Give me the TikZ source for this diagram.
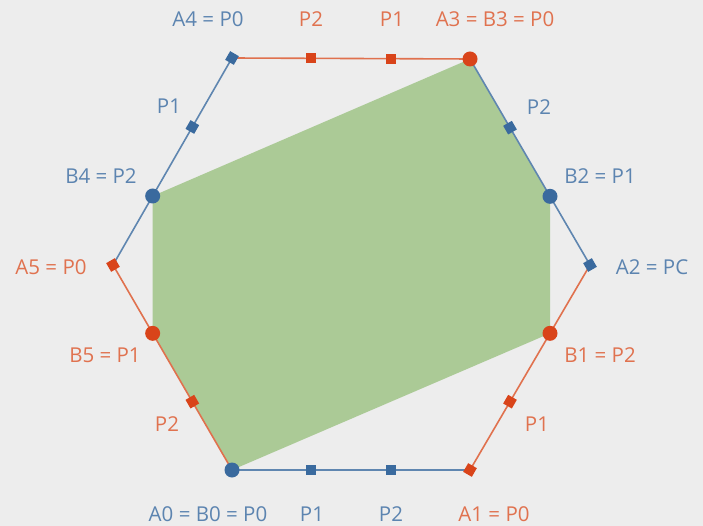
\documentclass[tikz,border=0pt]{standalone}
\usepackage{fontspec}
\setmainfont{Open Sans}
\usetikzlibrary{calc, positioning}
\definecolor{hexblue}{HTML}{3A6A9E}
\definecolor{hexorange}{HTML}{D9441A}
\definecolor{lineblue}{HTML}{5F86B0}
\definecolor{lineorange}{HTML}{E0714E}
\definecolor{lblblue}{HTML}{5C84B0}
\definecolor{lblorange}{HTML}{E0724F}
\definecolor{fillgreen}{HTML}{ABCA96}
\definecolor{bggray}{HTML}{EDEDED}
\tikzset{
    edgeb/.style={draw=lineblue, line width=1.6pt},
    edgeo/.style={draw=lineorange, line width=1.6pt},
    sqmark/.style={rectangle, inner sep=0pt, minimum size=10pt},
    dotmark/.style={circle, inner sep=0pt, minimum size=15pt},
    lblb/.style={text=lblblue, font=\fontsize{20.5}{24}\selectfont, inner sep=0pt},
    lblo/.style={text=lblorange, font=\fontsize{20.5}{24}\selectfont, inner sep=0pt}
}

\begin{document}
\begin{tikzpicture}[x=1pt, y=-1pt]
    \fill[bggray] (0,0) rectangle (703,526);
    \useasboundingbox (0,0) rectangle (703,526);

    % hexagon corners
    \coordinate (A0) at (232,470);
    \coordinate (A1) at (470,470);
    \coordinate (A2) at (590,265);
    \coordinate (A3) at (470,59);
    \coordinate (A4) at (232,58);
    \coordinate (A5) at (113,265);

    % points on the edges
    \coordinate (B1) at ($(A1)!2/3!(A2)$);
    \coordinate (B2) at ($(A2)!1/3!(A3)$);
    \coordinate (B4) at ($(A4)!2/3!(A5)$);
    \coordinate (B5) at ($(A5)!1/3!(A0)$);

    \fill[fillgreen] (A0) -- (B1) -- (B2) -- (A3) -- (B4) -- (B5) -- cycle;

    \draw[edgeb] (A0) -- (A1);
    \draw[edgeo] (A1) -- (A2);
    \draw[edgeb] (A2) -- (A3);
    \draw[edgeo] (A3) -- (A4);
    \draw[edgeb] (A4) -- (A5);
    \draw[edgeo] (A5) -- (A0);

    % markers
    \node (m01) [sqmark, fill=hexblue] at ($(A0)!1/3!(A1)$) {};
    \node (m02) [sqmark, fill=hexblue] at ($(A0)!2/3!(A1)$) {};
    \node (m31) [sqmark, fill=hexorange] at ($(A3)!1/3!(A4)$) {};
    \node (m32) [sqmark, fill=hexorange] at ($(A3)!2/3!(A4)$) {};
    \node (m41) [sqmark, fill=hexblue, rotate=60] at ($(A4)!1/3!(A5)$) {};
    \node (m52) [sqmark, fill=hexorange, rotate=-60] at ($(A5)!2/3!(A0)$) {};
    \node (m11) [sqmark, fill=hexorange, rotate=60] at ($(A1)!1/3!(A2)$) {};
    \node (m22) [sqmark, fill=hexblue, rotate=-60] at ($(A2)!2/3!(A3)$) {};
    \node (a1) [sqmark, fill=hexorange, rotate=60] at (A1) {};
    \node (a2) [sqmark, fill=hexblue, rotate=-60] at (A2) {};
    \node (a4) [sqmark, fill=hexblue, rotate=60] at (A4) {};
    \node (a5) [sqmark, fill=hexorange, rotate=-60] at (A5) {};
    \node (a0) [dotmark, fill=hexblue] at (A0) {};
    \node (a3) [dotmark, fill=hexorange] at (A3) {};
    \node (b1) [dotmark, fill=hexorange] at (B1) {};
    \node (b2) [dotmark, fill=hexblue] at (B2) {};
    \node (b4) [dotmark, fill=hexblue] at (B4) {};
    \node (b5) [dotmark, fill=hexorange] at (B5) {};

    % labels
    \node [lblb] at (208,19) {A4 = P0};
    \node [lblo] at (311,19) {P2};
    \node [lblo] at (392,19) {P1};
    \node [lblo] at (495,19) {A3 = B3 = P0};
    \node [lblb] at (169,106) {P1};
    \node [lblb] at (539,107) {P2};
    \node [lblb] at (101,176) {B4 = P2};
    \node [lblb] at (600,176) {B2 = P1};
    \node [lblo] at (51,267) {A5 = P0};
    \node [lblb] at (652,267) {A2 = PC};
    \node [lblo] at (105,355) {B5 = P1};
    \node [lblo] at (600,355) {B1 = P2};
    \node [lblo] at (167,424) {P2};
    \node [lblo] at (537,424) {P1};
    \node [lblb] at (208,514) {A0 = B0 = P0};
    \node [lblb] at (312,514) {P1};
    \node [lblb] at (391,514) {P2};
    \node [lblo] at (494,514) {A1 = P0};
\end{tikzpicture}
\end{document}
